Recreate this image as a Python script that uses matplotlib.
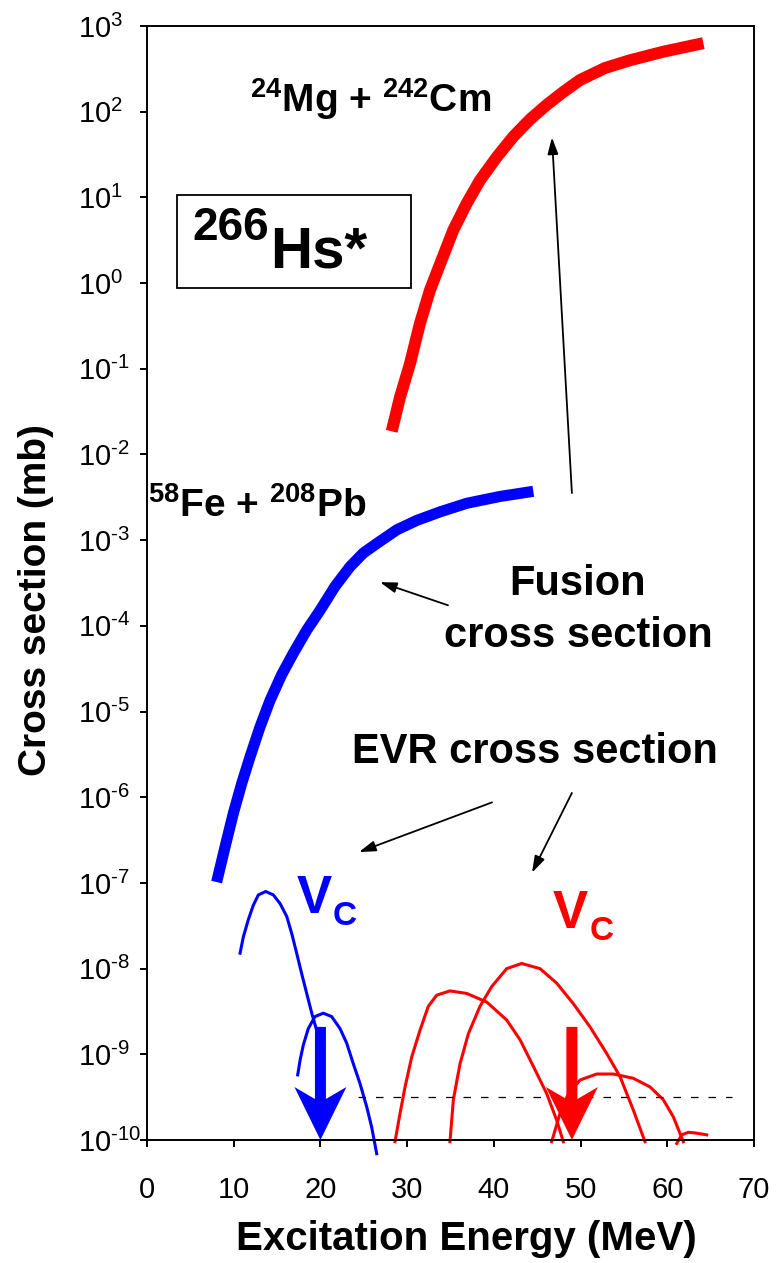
"""Fusion and evaporation-residue cross sections for the 266Hs* compound nucleus."""

import matplotlib

matplotlib.use("Agg")
import matplotlib.pyplot as plt
import matplotlib.transforms as mtransforms
import numpy as np
from matplotlib.patches import Polygon, Rectangle

plt.rcParams["font.family"] = ["Liberation Sans", "DejaVu Sans"]
plt.rcParams["mathtext.fontset"] = "custom"
plt.rcParams["mathtext.rm"] = "Liberation Sans"

RED = "#ff0000"
BLUE = "#0000ff"

# fusion cross sections: energy (MeV) and log10(sigma / mb)
mg_cm_energy = [28.22, 29.18, 30.33, 31.48, 32.64, 33.98, 35.33, 36.87, 38.40, 40.33,
                42.25, 44.17, 46.10, 48.01, 49.94, 52.82, 55.70, 59.54, 64.16]
mg_cm_logsig = [-1.73, -1.33, -0.94, -0.47, -0.08, 0.27, 0.62, 0.93, 1.20, 1.47,
                1.71, 1.91, 2.08, 2.23, 2.37, 2.51, 2.60, 2.70, 2.80]
fe_pb_energy = [8.03, 9.00, 9.95, 10.92, 11.88, 13.03, 14.19, 15.53, 16.87, 18.42, 19.95,
                21.68, 23.41, 24.95, 26.49, 28.80, 31.10, 33.79, 36.87, 40.71, 44.55]
fe_pb_logsig = [-6.99, -6.58, -6.19, -5.84, -5.53, -5.18, -4.87, -4.57, -4.32, -4.05, -3.82,
                -3.54, -3.31, -3.15, -3.04, -2.88, -2.77, -2.67, -2.57, -2.49, -2.43]

# evaporation residue channels, 58Fe + 208Pb
evr_fe_1_energy = [10.73, 11.11, 11.68, 12.26, 12.84, 13.69, 14.57, 15.34, 16.11, 16.69,
                   17.26, 17.84, 18.42, 19.00, 19.57]
evr_fe_1_logsig = [-7.82, -7.63, -7.43, -7.26, -7.14, -7.10, -7.14, -7.24, -7.39, -7.59,
                   -7.82, -8.06, -8.29, -8.52, -8.72]
evr_fe_2_energy = [17.38, 17.65, 18.03, 18.60, 19.37, 20.33, 21.30, 22.26, 23.03, 23.79,
                   24.56, 25.33, 25.91, 26.49]
evr_fe_2_logsig = [-9.24, -9.07, -8.89, -8.70, -8.56, -8.52, -8.56, -8.70, -8.87, -9.11,
                   -9.34, -9.61, -9.85, -10.16]

# evaporation residue channels, 24Mg + 242Cm
evr_mg_1_energy = [28.60, 29.18, 29.76, 30.53, 31.48, 32.44, 33.41, 34.94, 36.87, 39.18,
                   41.48, 43.02, 44.55, 46.10, 47.25, 48.01]
evr_mg_1_logsig = [-10.02, -9.69, -9.38, -9.03, -8.72, -8.44, -8.31, -8.26, -8.29, -8.39,
                   -8.60, -8.83, -9.14, -9.46, -9.77, -10.02]
evr_mg_2_energy = [34.94, 35.33, 36.10, 37.06, 38.40, 39.75, 41.48, 43.21, 45.32, 47.25,
                   49.17, 51.09, 53.01, 54.55, 56.08, 57.43]
evr_mg_2_logsig = [-10.02, -9.53, -9.11, -8.76, -8.44, -8.21, -8.00, -7.94, -8.00, -8.17,
                   -8.41, -8.68, -8.99, -9.26, -9.65, -10.02]
evr_mg_3_energy = [46.67, 47.63, 48.59, 49.94, 51.86, 53.78, 56.08, 58.00, 59.54, 60.70,
                   61.85]
evr_mg_3_logsig = [-10.02, -9.69, -9.46, -9.30, -9.23, -9.23, -9.28, -9.38, -9.53, -9.73,
                   -10.02]
evr_mg_4_energy = [61.09, 61.66, 62.43, 63.39, 64.55]
evr_mg_4_logsig = [-10.04, -9.94, -9.91, -9.92, -9.94]

# Coulomb barriers (MeV) and the arrow start (log10 sigma)
vc_fe = 20.0
vc_mg = 49.0
vc_arrow_top = -8.68

limit_logsig = -9.5
limit_energy = (24.3, 67.5)

y_decades = list(range(-10, 4))
x_ticks = [0, 10, 20, 30, 40, 50, 60, 70]


def sig(values):
    return 10.0 ** np.asarray(values, dtype=float)


def barrier_arrow(ax, x, top, color):
    """Thick down arrow with swept-back barbs, tip on the lower axis."""
    tip_x, tip_y = ax.transData.transform((x, 1e-10))
    _, top_y = ax.transData.transform((x, 10.0 ** top))
    half_shaft, barb_dx, barb_dy, notch_dy = 5.5, 26, 53, 41
    verts = [
        (tip_x, tip_y),
        (tip_x + barb_dx, tip_y + barb_dy),
        (tip_x + half_shaft, tip_y + notch_dy),
        (tip_x + half_shaft, top_y),
        (tip_x - half_shaft, top_y),
        (tip_x - half_shaft, tip_y + notch_dy),
        (tip_x - barb_dx, tip_y + barb_dy),
    ]
    ax.add_patch(Polygon(verts, closed=True, fc=color, ec="none",
                         transform=mtransforms.IdentityTransform(), zorder=3))


fig = plt.figure(figsize=(7.76, 12.63), dpi=100)
ax = fig.add_axes([147 / 776, 123 / 1263, 607 / 776, 1114 / 1263])
ax.set_yscale("log")
ax.set_xlim(0, 70)
ax.set_ylim(1e-10, 1e3)

# fusion curves
ax.plot(mg_cm_energy, sig(mg_cm_logsig), color=RED, lw=8.6,
        solid_capstyle="butt", solid_joinstyle="round")
ax.plot(fe_pb_energy, sig(fe_pb_logsig), color=BLUE, lw=8.0,
        solid_capstyle="butt", solid_joinstyle="round")

# EVR curves
for e, s in [(evr_fe_1_energy, evr_fe_1_logsig), (evr_fe_2_energy, evr_fe_2_logsig)]:
    ax.plot(e, sig(s), color=BLUE, lw=2.2, clip_on=False, solid_joinstyle="round")
for e, s in [
    (evr_mg_1_energy, evr_mg_1_logsig),
    (evr_mg_2_energy, evr_mg_2_logsig),
    (evr_mg_3_energy, evr_mg_3_logsig),
    (evr_mg_4_energy, evr_mg_4_logsig),
]:
    ax.plot(e, sig(s), color=RED, lw=2.2, clip_on=False, solid_joinstyle="round")

ax.plot(limit_energy, sig([limit_logsig, limit_logsig]), color="black",
        lw=0.9, dashes=(6, 8))

# Coulomb barrier arrows
barrier_arrow(ax, vc_fe, vc_arrow_top, BLUE)
barrier_arrow(ax, vc_mg, vc_arrow_top, RED)

# pointer arrows (tail, head) in (MeV, log10 sigma)
pointers = [
    ((49.0, -2.45), (46.7, 1.70)),
    ((34.71, -3.76), (26.87, -3.49)),
    ((39.79, -6.06), (24.45, -6.64)),
    ((49.0, -5.95), (44.4, -6.88)),
]
for (xt, yt), (xh, yh) in pointers:
    ax.annotate("", xy=(xh, 10 ** yh), xytext=(xt, 10 ** yt),
                arrowprops=dict(arrowstyle="-|>,head_length=1.0,head_width=0.32",
                                mutation_scale=10, lw=1.3, color="black",
                                shrinkA=0, shrinkB=0))

# labels
ax.text(11.9, 1e2, r"$\mathregular{^{24}}$Mg + $\mathregular{^{242}}$Cm",
        fontsize=28, fontweight="bold", ha="left", va="baseline")
ax.text(0.1, 10 ** -2.73, r"$\mathregular{^{58}}$Fe + $\mathregular{^{208}}$Pb",
        fontsize=28, fontweight="bold", ha="left", va="baseline")

ax.add_patch(Rectangle((3.46, 10 ** -0.058), 30.45 - 3.46,
                       10 ** 1.028 - 10 ** -0.058, fill=False, lw=1.3,
                       ec="black"))
ax.text(5.19, 10 ** 0.50, "266", fontsize=33, fontweight="bold",
        ha="left", va="baseline")
ax.text(14.19, 10 ** 0.176, "Hs*", fontsize=42, fontweight="bold",
        ha="left", va="baseline")

ax.text(49.7, 10 ** -3.64, "Fusion", fontsize=30, fontweight="bold",
        ha="center", va="baseline")
ax.text(49.7, 10 ** -4.25, "cross section", fontsize=30, fontweight="bold",
        ha="center", va="baseline")
ax.text(44.75, 10 ** -5.60, "EVR cross section", fontsize=30,
        fontweight="bold", ha="center", va="baseline")

for (xv, yv, xc, yc, color) in [
    (17.3, -7.35, 21.45, -7.49, BLUE),
    (46.82, -7.53, 51.09, -7.67, RED),
]:
    ax.text(xv, 10 ** yv, "V", fontsize=38, fontweight="bold", color=color,
            ha="left", va="baseline")
    ax.text(xc, 10 ** yc, "C", fontsize=24, fontweight="bold", color=color,
            ha="left", va="baseline")

# axes styling
ax.set_xticks(x_ticks)
ax.set_xticklabels([str(t) for t in x_ticks])
ax.set_yticks([10.0 ** k for k in y_decades])
ax.set_yticklabels(
    [rf"$\mathregular{{10^{{\text{{{k}}}}}}}$" for k in y_decades]
)
ax.minorticks_off()
ax.tick_params(axis="both", direction="out", length=5, width=1.4, labelsize=21)
ax.tick_params(axis="x", pad=21)
ax.tick_params(axis="y", pad=45)
for label in ax.get_yticklabels():
    label.set_horizontalalignment("left")
for spine in ax.spines.values():
    spine.set_linewidth(1.4)

fig.text(36 / 776, 1 - 600 / 1263, "Cross section (mb)", rotation=90,
         fontsize=28, fontweight="bold", ha="center", va="center")
fig.text(466 / 776, 1 - 1250 / 1263, "Excitation Energy (MeV)", fontsize=29,
         fontweight="bold", ha="center", va="baseline")

fig.savefig("out.png", dpi=100)
